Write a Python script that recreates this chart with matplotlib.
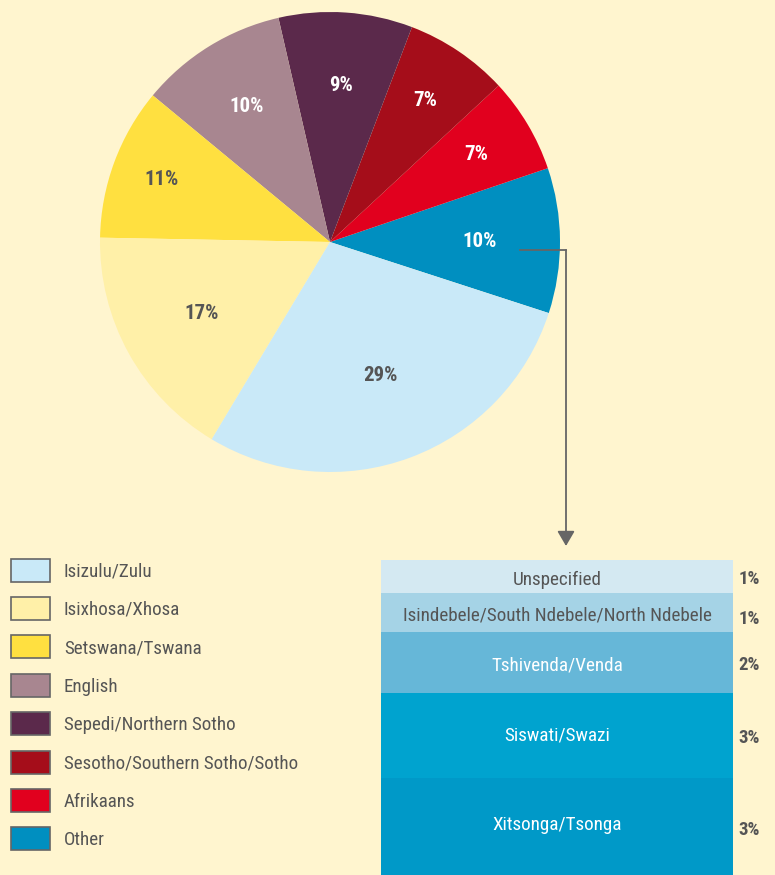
import matplotlib
matplotlib.use("Agg")
import matplotlib.pyplot as plt
from matplotlib import font_manager
from matplotlib.patches import Patch, FancyArrowPatch
import numpy as np

# ---------------- data ----------------
pie_labels = ["Other", "Afrikaans", "Sesotho/Southern Sotho/Sotho", "Sepedi/Northern Sotho",
              "English", "Setswana/Tswana", "Isixhosa/Xhosa", "Isizulu/Zulu"]
pie_values = [10.2, 6.7, 7.3, 9.4, 10.4, 10.7, 16.7, 28.6]
pie_colors = ["#008FC0", "#E1001E", "#A50D1A", "#5B294B", "#A88690", "#FFE040", "#FFF0A8", "#C9E9F8"]
pie_text_colors = ["white", "white", "white", "white", "white", "#555555", "#555555", "#555555"]
pie_label_dist = [0.65, 0.74, 0.74, 0.68, 0.69, 0.78, 0.64, 0.62]

legend_order = ["Isizulu/Zulu", "Isixhosa/Xhosa", "Setswana/Tswana", "English",
                "Sepedi/Northern Sotho", "Sesotho/Southern Sotho/Sotho", "Afrikaans", "Other"]

other_labels = ["Unspecified", "Isindebele/South Ndebele/North Ndebele", "Tshivenda/Venda",
                "Siswati/Swazi", "Xitsonga/Tsonga"]
other_values = [1.05, 1.25, 1.95, 2.75, 3.1]
other_pct = ["1%", "1%", "2%", "3%", "3%"]
other_colors = ["#D4E9F2", "#A5D3E6", "#66B7D8", "#00A3CF", "#0099C8"]
other_text_colors = ["#555555", "#555555", "white", "white", "white"]
pct_dy = [-3, -7, -3, -3, -3]   # px offsets of the right-hand percent labels
lab_dy = [-4, -3, -3, 0, 2]     # px offsets of the in-bar labels

# ---------------- fonts ----------------
names = {f.name for f in font_manager.fontManager.ttflist}
fam = [n for n in ["Liberation Sans Narrow", "Roboto Condensed", "Open Sans Condensed"] if n in names]
fam = fam + ["DejaVu Sans"] if fam else ["Liberation Sans", "DejaVu Sans"]
plt.rcParams["font.family"] = fam

BG = "#FFF5CF"
W, H = 775, 875
fig = plt.figure(figsize=(W / 100, H / 100), dpi=100, facecolor=BG)

def fbox(x0, y0, x1, y1):
    return [x0 / W, 1 - y1 / H, (x1 - x0) / W, (y1 - y0) / H]

def fp(x, y):
    return (x / W, 1 - y / H)

# ---------------- pie ----------------
ax = fig.add_axes(fbox(100, 12, 560, 472))
ax.set_facecolor(BG)
wedges, _ = ax.pie(pie_values, colors=pie_colors, startangle=-18, counterclock=True,
                   radius=1, wedgeprops=dict(linewidth=0))
total = sum(pie_values)
for w, v, tc, d in zip(wedges, pie_values, pie_text_colors, pie_label_dist):
    ang = np.deg2rad((w.theta1 + w.theta2) / 2)
    ax.text(d * np.cos(ang), d * np.sin(ang), f"{round(v / total * 100):d}%",
            ha="center", va="center", color=tc, fontsize=15, fontweight="bold")
ax.set_xlim(-1, 1)
ax.set_ylim(-1, 1)
ax.set_aspect("equal")
ax.axis("off")

# ---------------- connector arrow ----------------
fig.add_artist(plt.Line2D([fp(520, 250)[0], fp(566, 250)[0]], [fp(520, 250)[1], fp(566, 250)[1]],
                          color="#666666", lw=1.3, transform=fig.transFigure))
fig.add_artist(FancyArrowPatch(
    fp(566, 250), fp(566, 546), transform=fig.transFigure,
    arrowstyle="-|>,head_length=6,head_width=3.5", color="#666666", lw=1.3,
    shrinkA=0, shrinkB=0, mutation_scale=1.5))

# ---------------- legend ----------------
handles = [Patch(facecolor=pie_colors[pie_labels.index(l)], edgecolor="#666666", linewidth=1.2)
           for l in legend_order]
fig.legend(handles, legend_order, loc="upper left", bbox_to_anchor=fp(5, 553),
           frameon=False, fontsize=13.7, handlelength=2.05, handleheight=1.48,
           labelspacing=0.81, handletextpad=0.75, borderaxespad=0, borderpad=0.3,
           labelcolor="#555555")

# ---------------- stacked bar ----------------
ax2 = fig.add_axes(fbox(381, 560, 733, 875))
ax2.set_facecolor(BG)
bottom = 0
for lab, v, c, tc, p, dy, ly in zip(other_labels, other_values, other_colors, other_text_colors,
                                    other_pct, pct_dy, lab_dy):
    ax2.bar(0, v, bottom=bottom, width=1, color=c, linewidth=0)
    ax2.annotate(lab, xy=(0, bottom + v / 2), xytext=(0, ly), textcoords="offset pixels",
                 ha="center", va="center", color=tc, fontsize=13.8)
    ax2.annotate(p, xy=(0.5, bottom + v / 2), xytext=(16, dy), textcoords="offset pixels",
                 ha="center", va="center", color="#555555", fontsize=13.5, fontweight="bold",
                 annotation_clip=False)
    bottom += v
ax2.set_xlim(-0.5, 0.5)
ax2.set_ylim(sum(other_values), 0)
ax2.axis("off")

fig.savefig("out.png", dpi=100, facecolor=BG)
